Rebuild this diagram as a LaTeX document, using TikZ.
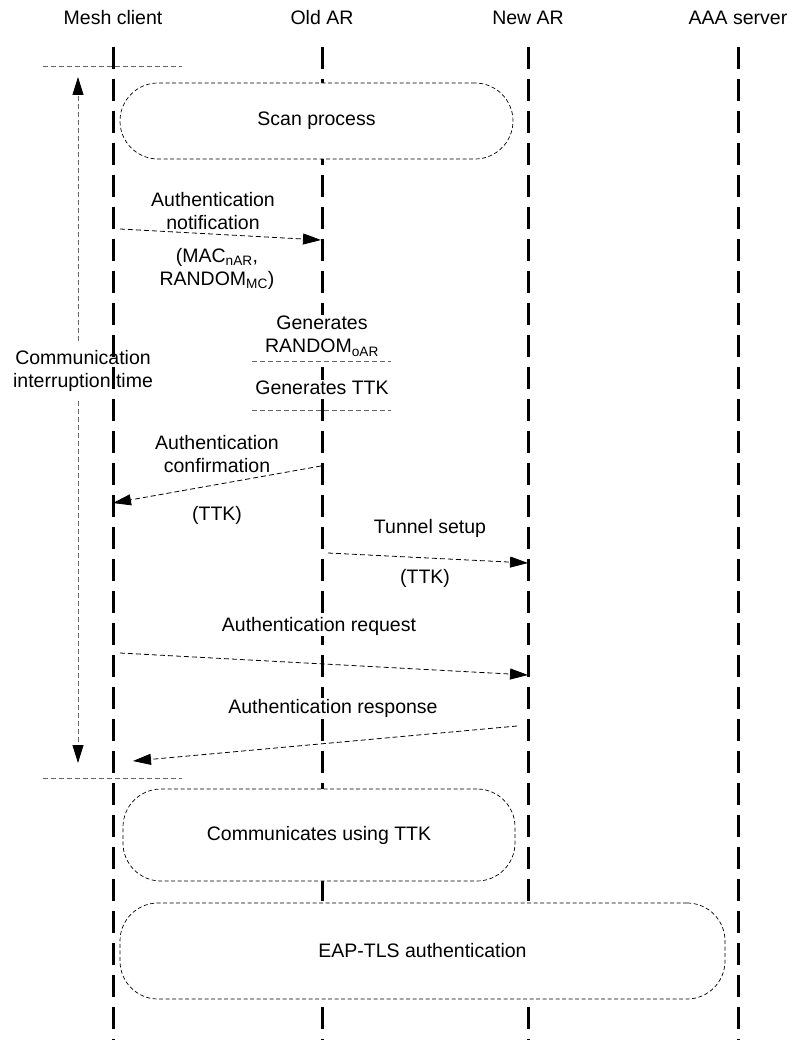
\documentclass[tikz,border=0pt]{standalone}
\usepackage{fontspec}
\setmainfont{Liberation Sans}
\usetikzlibrary{arrows.meta}
\begin{document}
\begin{tikzpicture}[x=1pt,y=-1pt,
  font=\fontsize{19.5}{23.5}\selectfont,
  lifeline/.style={line width=3pt, dash pattern=on 22pt off 10pt},
  msg/.style={line width=0.8pt, dash pattern=on 5pt off 3pt,
    -{Triangle[length=18pt,width=11pt]}},
  proc/.style={draw, line width=0.7pt, dash pattern=on 4pt off 2.5pt,
    rounded corners=38pt, fill=white, inner sep=0pt},
  guide/.style={draw=black!60, line width=0.8pt, dash pattern=on 5pt off 3pt},
  lbl/.style={align=center, inner sep=0pt},
  tag/.style={lbl, fill=white, inner ysep=1pt}]
\useasboundingbox (0,0) rectangle (795,1040);

% participants
\node[lbl] (hmc) at (113,18) {Mesh client};
\node[lbl] (hoar) at (322,18) {Old AR};
\node[lbl] (hnar) at (528,18) {New AR};
\node[lbl] (haaa) at (738,18) {AAA server};

% interruption label sits under the lifelines
\node[lbl, inner ysep=9pt] (cit) at (83,371) {Communication\\interruption time};

% lifelines
\foreach \n/\x in {mc/113, oar/322, nar/528, aaa/738}{
  \coordinate (\n Top) at (\x,47);
  \coordinate (\n Bot) at (\x,1040);
  \draw[lifeline] (\n Top) -- (\n Bot);
}

% process boxes
\node[proc, minimum width=393pt, minimum height=76pt] (scan) at (316.5,121) {Scan process};
\node[proc, minimum width=392pt, minimum height=92pt] (comm) at (319,835) {Communicates using TTK};
\node[proc, minimum width=605pt, minimum height=96pt] (eap) at (422.5,951) {EAP-TLS authentication};

% interruption interval
\coordinate (brTopL) at (43,66);
\coordinate (brTopR) at (182,66);
\coordinate (brBotL) at (43,778);
\coordinate (brBotR) at (182,778);
\draw[guide] (brTopL) -- (brTopR);
\draw[guide] (brBotL) -- (brBotR);
\coordinate (vTop) at (78,77);
\coordinate (vBot) at (78,763);
\draw[guide, -{Triangle[length=18pt,width=11pt,color=black]}] (vTop |- cit.north) -- (vTop);
\draw[guide, -{Triangle[length=18pt,width=11pt,color=black]}] (vBot |- cit.south) -- (vBot);

% Old AR local steps
\node[tag] (genr) at (322,336) {Generates\\RANDOM\textsubscript{oAR}};
\node[tag] (gent) at (322,388) {Generates TTK};
\coordinate (g1L) at (252,361);
\coordinate (g1R) at (391,361);
\draw[guide] (g1L) -- (g1R);
\coordinate (g2L) at (252,410);
\coordinate (g2R) at (391,410);
\draw[guide] (g2L) -- (g2R);

% message labels
\node[tag] (ntop) at (213,211) {Authentication\\notification};
\node[tag] (nbot) at (217,269) {(MAC\textsubscript{nAR},\\RANDOM\textsubscript{MC})};
\node[tag] (ctop) at (217,454) {Authentication\\confirmation};
\node[tag] (cbot) at (217,515) {(TTK)};
\node[tag] (ttop) at (430,528) {Tunnel setup};
\node[tag] (tbot) at (425,578) {(TTK)};
\node[tag] (qtop) at (319,626) {Authentication request};
\node[tag] (rtop) at (333,708) {Authentication response};

% messages
\coordinate (n1) at (120,229);
\coordinate (n2) at (321,240);
\draw[msg] (n1) -- (n2);

\coordinate (c1) at (321,466);
\coordinate (c2) at (113,503);
\draw[msg] (c1) -- (c2);

\coordinate (t1) at (328,553);
\coordinate (t2) at (528,563);
\draw[msg] (t1) -- (t2);

\coordinate (q1) at (120,653);
\coordinate (q2) at (528,675);
\draw[msg] (q1) -- (q2);

\coordinate (r1) at (517,726);
\coordinate (r2) at (133,761);
\draw[msg] (r1) -- (r2);
\end{tikzpicture}
\end{document}
